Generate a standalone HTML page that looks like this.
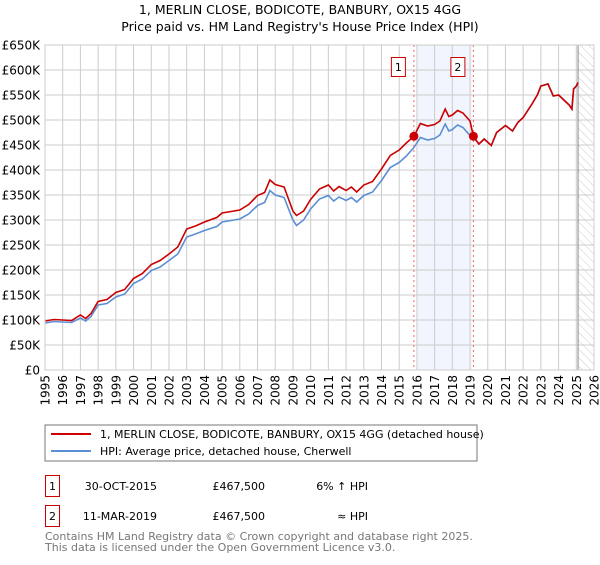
<!DOCTYPE html>
<html><head><meta charset="utf-8"><style>
body{margin:0;background:#fff;}
svg text{font-family:"DejaVu Sans","Liberation Sans",sans-serif;}
</style></head><body>
<svg id="c" width="600" height="560" viewBox="0 0 600 560" xmlns="http://www.w3.org/2000/svg">
<defs><pattern id="hatch" width="6" height="6" patternUnits="userSpaceOnUse" patternTransform="rotate(-45)"><line x1="0" y1="0" x2="0" y2="6" stroke="#ccc" stroke-width="1"/></pattern></defs>
<text x="300" y="14" text-anchor="middle" font-size="12.5">1, MERLIN CLOSE, BODICOTE, BANBURY, OX15 4GG</text>
<text x="300" y="31" text-anchor="middle" font-size="12.5">Price paid vs. HM Land Registry's House Price Index (HPI)</text>
<g id="grid"></g><g id="marks"></g><g id="axes"></g>
<rect x="45" y="425" width="432" height="36" fill="none" stroke="#777"/>
<line x1="51" y1="434" x2="91" y2="434" stroke="#cc0000" stroke-width="2"/>
<text x="100" y="438" font-size="11">1, MERLIN CLOSE, BODICOTE, BANBURY, OX15 4GG (detached house)</text>
<line x1="51" y1="451" x2="91" y2="451" stroke="#5b8fd4" stroke-width="2"/>
<text x="100" y="455" font-size="11">HPI: Average price, detached house, Cherwell</text>
<g>
<rect x="45.5" y="475.5" width="14" height="21" fill="#fff" stroke="#cc0000"/><text x="52.5" y="490" text-anchor="middle" font-size="11">1</text>
<text x="157" y="490" text-anchor="end" font-size="11">30-OCT-2015</text>
<text x="265" y="490" text-anchor="end" font-size="11">£467,500</text>
<text x="368" y="490" text-anchor="end" font-size="11">6% ↑ HPI</text></g>
<g>
<rect x="45.5" y="505.5" width="14" height="21" fill="#fff" stroke="#cc0000"/><text x="52.5" y="520" text-anchor="middle" font-size="11">2</text>
<text x="157" y="520" text-anchor="end" font-size="11">11-MAR-2019</text>
<text x="265" y="520" text-anchor="end" font-size="11">£467,500</text>
<text x="368" y="520" text-anchor="end" font-size="11">≈ HPI</text></g>
<text x="45" y="540" font-size="11" fill="#777">Contains HM Land Registry data © Crown copyright and database right 2025.</text>
<text x="45" y="551" font-size="11" fill="#777">This data is licensed under the Open Government Licence v3.0.</text>
</svg>
<script>
const years=[1995,1995.5,1996,1996.5,1997,1997.3,1997.6,1998,1998.5,1999,1999.5,2000,2000.5,2001,2001.5,2002,2002.5,2003,2003.5,2004,2004.7,2005,2005.5,2006,2006.5,2007,2007.4,2007.7,2008,2008.5,2009,2009.2,2009.6,2010,2010.5,2011,2011.3,2011.6,2012,2012.3,2012.6,2013,2013.5,2014,2014.5,2015,2015.4,2015.83,2016.2,2016.6,2017,2017.3,2017.6,2017.8,2018,2018.3,2018.6,2019,2019.19,2019.5,2019.8,2020.2,2020.5,2021,2021.4,2021.7,2022,2022.5,2022.8,2023,2023.4,2023.7,2024,2024.3,2024.6,2024.75,2024.85,2025,2025.1];
const hpi=[94,97,96,95,104,98,107,130,133,146,152,173,182,199,206,219,232,266,272,279,287,296,299,302,312,329,335,359,350,345,300,289,300,322,342,349,338,346,339,345,336,349,356,379,405,415,428,445,465,460,463,470,492,478,481,490,485,469,465,452,462,449,475,489,478,495,505,532,550,568,572,548,550,540,530,522,562,568,575];
const price=[98,101,100,99,110,103,113,137,141,155,161,183,193,211,219,232,246,282,288,296,305,314,317,320,331,349,355,380,371,366,318,309,318,341,362,370,358,367,359,366,356,370,377,402,429,440,454,467.5,493,488,491,498,522,507,510,519,514,498,467.5,452,462,449,475,489,478,495,505,532,550,568,572,548,550,540,530,522,562,568,575];
const yTicks=[0,50,100,150,200,250,300,350,400,450,500,550,600,650];
const xTicks=[1995,1996,1997,1998,1999,2000,2001,2002,2003,2004,2005,2006,2007,2008,2009,2010,2011,2012,2013,2014,2015,2016,2017,2018,2019,2020,2021,2022,2023,2024,2025,2026];
const sales=[[2015.83,467.5],[2019.19,467.5]];
const NS='http://www.w3.org/2000/svg';
const X=y=>45+(y-1995)*(549/31), Y=v=>370-v*(325/650);
function mk(p,t,a){const e=document.createElementNS(NS,t);for(const k in a)e.setAttribute(k,a[k]);p.appendChild(e);return e;}
const g=document.getElementById('grid'),m=document.getElementById('marks'),ax=document.getElementById('axes');
const sh=mk(g,'rect',{x:X(2016),y:45,width:X(2019.1)-X(2016),height:325,fill:'#eef3fc',opacity:0.8});


const ht=mk(g,'rect',{x:X(2025.1),y:45,width:594-X(2025.1),height:325,fill:'url(#hatch)'});


yTicks.forEach(v=>{const l=mk(g,'line',{x1:45,x2:594,y1:Y(v),y2:Y(v),stroke:'#ccc'});


const t=mk(ax,'text',{x:40,y:Y(v)+4.5,'text-anchor':'end','font-size':12});t.textContent='£'+(v?v+'K':'0');

});
xTicks.forEach(yr=>{const l=mk(g,'line',{x1:X(yr),x2:X(yr),y1:45,y2:370,stroke:'#ccc'});


const t=mk(ax,'text',{x:0,y:0,'font-size':12,'text-anchor':'end',transform:`translate(${X(yr)+4.5},375) rotate(-90)`});t.textContent=yr;

});
const vl=mk(g,'line',{x1:X(2025.1),x2:X(2025.1),y1:45,y2:370,stroke:'#888'});


const pts=a=>a.map((v,i)=>X(years[i]).toFixed(1)+','+Y(v).toFixed(1)).join(' ');
const hl=mk(m,'polyline',{points:pts(hpi),fill:'none',stroke:'#5b8fd4','stroke-width':1.6});


const pl=mk(m,'polyline',{points:pts(price),fill:'none',stroke:'#cc0000','stroke-width':1.6});


sales.forEach((s,i)=>{const d=mk(m,'line',{x1:X(s[0]),x2:X(s[0]),y1:45,y2:370,stroke:'#e66','stroke-dasharray':'2,3'});


const c=mk(m,'circle',{cx:X(s[0]),cy:Y(s[1]),r:4.5,fill:'#cc0000'});


const b=mk(m,'rect',{x:X(s[0])-22.5,y:57.5,width:14,height:19,fill:'#fff',stroke:'#cc0000'});


const t=mk(m,'text',{x:X(s[0])-15.5,y:71,'text-anchor':'middle','font-size':11});t.textContent=i+1;

});
const bd=mk(ax,'rect',{x:45,y:45,width:549,height:325,fill:'none',stroke:'#ccc'});


</script>
</body></html>
